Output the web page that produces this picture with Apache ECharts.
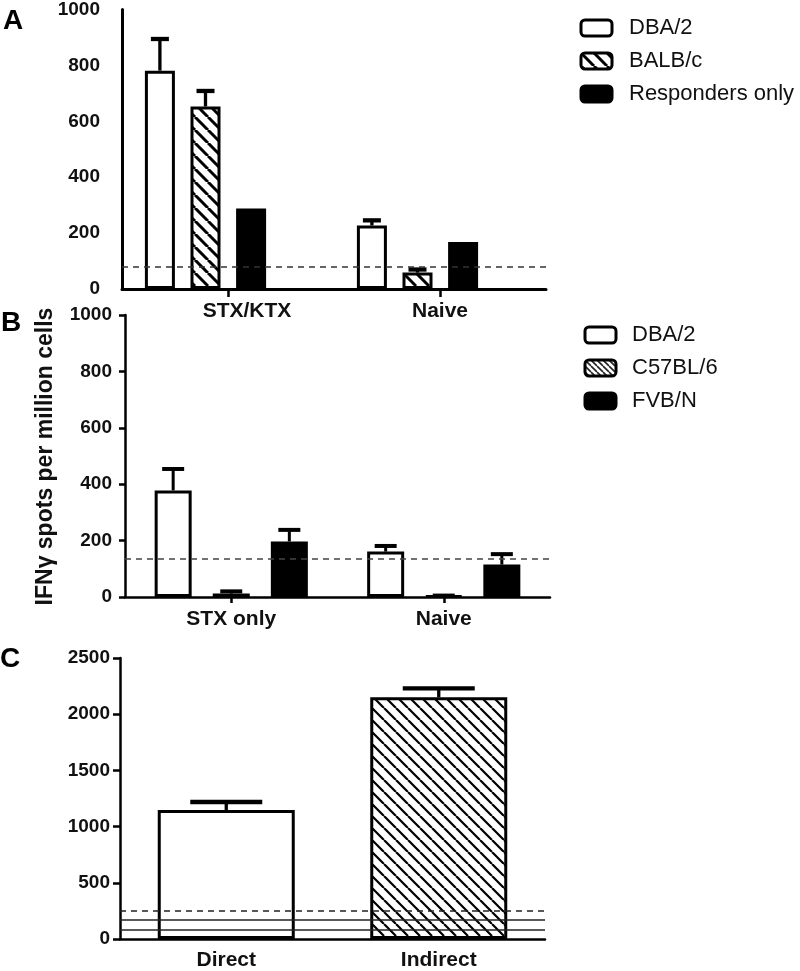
<!DOCTYPE html>
<html><head><meta charset="utf-8">
<script src="https://cdn.jsdelivr.net/npm/echarts@6/dist/echarts.min.js"></script>
<style>html,body{margin:0;padding:0;background:#fff}#c{width:800px;height:971px}</style>
</head><body><div id="c"></div>
<script>
const FONT = '"Liberation Sans", Arial, Helvetica, sans-serif';

// ---------- Panel A ----------
const catsA = ['STX/KTX', 'Naive'];
const namesA = ['DBA/2', 'BALB/c', 'Responders only'];
const meanA_DBA = [773, 225];
const errA_DBA = [885, 243];
const meanA_BALB = [646, 58];
const errA_BALB = [701, 69];
const meanA_Resp = [285, 166];
const thresholdA = 78;
const ticksA = [0, 200, 400, 600, 800, 1000];

// ---------- Panel B ----------
const catsB = ['STX only', 'Naive'];
const namesB = ['DBA/2', 'C57BL/6', 'FVB/N'];
const meanB_DBA = [378, 161];
const errB_DBA = [454, 181];
const meanB_C57 = [12, 4];
const errB_C57 = [20, 5];
const meanB_FVB = [197, 115];
const errB_FVB = [238, 152];
const thresholdB = 135;
const ticksB = [0, 200, 400, 600, 800, 1000];

// ---------- Panel C ----------
const catsC = ['Direct', 'Indirect'];
const meanC = [1148, 2150];
const errC = [1219, 2230];
const dashedC = 248;
const solidC = [168, 80];
const ticksC = [0, 500, 1000, 1500, 2000, 2500];

const yNameB = 'IFNγ spots per million cells';

function hatch(p, w, bg, fg) {
  const c = document.createElement('canvas');
  c.width = p; c.height = p;
  const ctx = c.getContext('2d');
  ctx.fillStyle = bg; ctx.fillRect(0, 0, p, p);
  ctx.strokeStyle = fg; ctx.lineWidth = w;
  ctx.beginPath();
  for (let k = -1; k <= 1; k++) { ctx.moveTo(k * p, 0); ctx.lineTo(k * p + p, p); }
  ctx.stroke();
  return { image: c, repeat: 'repeat' };
}
const hatchA = hatch(13, 3, '#fff', '#000');
const hatchB = hatch(6, 1.6, '#fff', '#222');
const hatchC = hatch(12, 2.2, '#fff', '#000');

function errSeries(xi, yi, means, errs, offset, capW, lw) {
  return {
    type: 'custom', xAxisIndex: xi, yAxisIndex: yi, z: 3, silent: true,
    data: means.map((m, i) => [i, m, errs[i]]),
    renderItem(params, api) {
      const base = api.coord([api.value(0), api.value(1)]);
      const top = api.coord([api.value(0), api.value(2)]);
      const x = base[0] + offset;
      return { type: 'group', children: [
        { type: 'line', shape: { x1: x, y1: base[1], x2: x, y2: top[1] }, style: { stroke: '#000', lineWidth: lw } },
        { type: 'line', shape: { x1: x - capW / 2, y1: top[1], x2: x + capW / 2, y2: top[1] }, style: { stroke: '#000', lineWidth: lw + 1 } }
      ] };
    }
  };
}

const yLabel = (m) => ({ fontSize: 19, fontWeight: 'bold', color: '#111', fontFamily: FONT, margin: m, formatter: (v) => String(v) });
const xLabel = (m) => ({ fontSize: 21, fontWeight: 'bold', color: '#111', fontFamily: FONT, margin: m, interval: 0 });
const axLine = (w) => ({ show: true, lineStyle: { color: '#000', width: w } });

const white = { color: '#fff', borderColor: '#000', borderWidth: 3 };
const black = { color: '#000', borderColor: '#000', borderWidth: 3 };

const bwA = 30, gapA = 0.52, bwB = 37, gapB = 0.57;
const pitchA = bwA * (1 + gapA), pitchB = bwB * (1 + gapB);

const option = {
  animation: false,
  backgroundColor: '#fff',
  grid: [
    { left: 122, right: 254, top: 6.5, height: 282.5 },
    { left: 99.5, right: 276.5, top: 6.5, height: 282.5 },
    { left: 125, right: 250, top: 315, height: 282 },
    { left: 120, right: 255, top: 658, height: 282 }
  ],
  xAxis: [
    { gridIndex: 0, type: 'category',
      data: catsA.map((c, i) => i === 0 ? { value: c, textStyle: { padding: [0, 0, 0, 38] } } : c),
      axisLine: axLine(3), axisTick: { show: true, alignWithLabel: true, length: 8, lineStyle: { color: '#000', width: 2.5 } },
      axisLabel: xLabel(12), splitLine: { show: false } },
    { gridIndex: 1, type: 'category', data: catsA, show: false },
    { gridIndex: 2, type: 'category', data: catsB,
      axisLine: axLine(2.5), axisTick: { show: true, alignWithLabel: true, length: 6, lineStyle: { color: '#000', width: 2.5 } },
      axisLabel: xLabel(12), splitLine: { show: false } },
    { gridIndex: 3, type: 'category', data: catsC,
      axisLine: axLine(2.5), axisTick: { show: false },
      axisLabel: xLabel(11), splitLine: { show: false } }
  ],
  yAxis: [
    { gridIndex: 0, type: 'value', min: ticksA[0], max: ticksA[ticksA.length - 1], interval: ticksA[1] - ticksA[0],
      axisLine: axLine(3), axisTick: { show: false }, axisLabel: yLabel(22), splitLine: { show: false } },
    { gridIndex: 1, type: 'value', min: ticksA[0], max: ticksA[ticksA.length - 1], show: false, splitLine: { show: false } },
    { gridIndex: 2, type: 'value', min: ticksB[0], max: ticksB[ticksB.length - 1], interval: ticksB[1] - ticksB[0],
      axisLine: axLine(2.5), axisTick: { show: true, length: 6, lineStyle: { color: '#000', width: 2.5 } },
      axisLabel: yLabel(13), splitLine: { show: false } },
    { gridIndex: 3, type: 'value', min: ticksC[0], max: ticksC[ticksC.length - 1], interval: ticksC[1] - ticksC[0],
      axisLine: axLine(2.5), axisTick: { show: true, length: 7, lineStyle: { color: '#000', width: 2.5 } },
      axisLabel: yLabel(10), splitLine: { show: false } }
  ],
  legend: [
    { orient: 'vertical', left: 574.5, top: 11.5, data: namesA, selectedMode: false,
      itemWidth: 31, itemHeight: 16, itemGap: 10, icon: 'roundRect',
      itemStyle: { borderWidth: 3, borderColor: '#000' },
      textStyle: { fontSize: 22, color: '#111', fontFamily: FONT, padding: [0, 0, 0, 12], lineHeight: 23 } },
    { orient: 'vertical', left: 578.5, top: 318.5, data: namesB, selectedMode: false,
      itemWidth: 31, itemHeight: 16, itemGap: 10, icon: 'roundRect',
      itemStyle: { borderWidth: 3, borderColor: '#000' },
      textStyle: { fontSize: 22, color: '#111', fontFamily: FONT, padding: [0, 0, 0, 11], lineHeight: 23 } }
  ],
  graphic: [
    { type: 'text', left: 3, top: 7, style: { text: 'A', font: 'bold 28px ' + FONT, fill: '#000' } },
    { type: 'text', left: 1, top: 309, style: { text: 'B', font: 'bold 28px ' + FONT, fill: '#000' } },
    { type: 'text', left: 0, top: 645, style: { text: 'C', font: 'bold 28px ' + FONT, fill: '#000' } },
    { type: 'text', x: 46, y: 456.5, rotation: Math.PI / 2,
      style: { text: yNameB, font: 'bold 23px ' + FONT, fill: '#111', textAlign: 'center', textVerticalAlign: 'middle' } }
  ],
  series: [
    // Panel A
    { type: 'line', xAxisIndex: 0, yAxisIndex: 0, data: [], z: 1, silent: true,
      markLine: { silent: true, symbol: 'none', label: { show: false },
        lineStyle: { color: '#333', type: [6, 5], width: 1.5 }, data: [{ yAxis: thresholdA }] } },
    { name: namesA[0], type: 'bar', xAxisIndex: 1, yAxisIndex: 1, data: meanA_DBA, barWidth: bwA, barGap: (gapA * 100) + '%', itemStyle: white, z: 2 },
    { name: namesA[1], type: 'bar', xAxisIndex: 1, yAxisIndex: 1, data: meanA_BALB, barWidth: bwA, barGap: (gapA * 100) + '%', itemStyle: { color: hatchA, borderColor: '#000', borderWidth: 3 }, z: 2 },
    { name: namesA[2], type: 'bar', xAxisIndex: 1, yAxisIndex: 1, data: meanA_Resp, barWidth: bwA, barGap: (gapA * 100) + '%', itemStyle: black, z: 2 },
    errSeries(1, 1, meanA_DBA, errA_DBA, -pitchA, 18, 3.3),
    errSeries(1, 1, meanA_BALB, errA_BALB, 0, 18, 3.3),
    // Panel B
    { type: 'line', xAxisIndex: 2, yAxisIndex: 2, data: [], z: 1, silent: true,
      markLine: { silent: true, symbol: 'none', label: { show: false },
        lineStyle: { color: '#444', type: [6, 5], width: 1.5 }, data: [{ yAxis: thresholdB }] } },
    { name: namesB[0], type: 'bar', xAxisIndex: 2, yAxisIndex: 2, data: meanB_DBA, barWidth: bwB, barGap: (gapB * 100) + '%', itemStyle: white, z: 2 },
    { name: namesB[1], type: 'bar', xAxisIndex: 2, yAxisIndex: 2, data: meanB_C57, barWidth: bwB, barGap: (gapB * 100) + '%', itemStyle: { color: hatchB, borderColor: '#000', borderWidth: 3 }, z: 2 },
    { name: namesB[2], type: 'bar', xAxisIndex: 2, yAxisIndex: 2, data: meanB_FVB, barWidth: bwB, barGap: (gapB * 100) + '%', itemStyle: black, z: 2 },
    errSeries(2, 2, meanB_DBA, errB_DBA, -pitchB, 22, 3),
    errSeries(2, 2, meanB_C57, errB_C57, 0, 22, 3),
    errSeries(2, 2, meanB_FVB, errB_FVB, pitchB, 22, 3),
    // Panel C
    { type: 'line', xAxisIndex: 3, yAxisIndex: 3, data: [], z: 1, silent: true,
      markLine: { silent: true, symbol: 'none', label: { show: false },
        data: [
          { yAxis: dashedC, lineStyle: { color: '#222', type: [6, 5], width: 1.5 } },
          { yAxis: solidC[0], lineStyle: { color: '#222', type: 'solid', width: 1.5 } },
          { yAxis: solidC[1], lineStyle: { color: '#222', type: 'solid', width: 1.5 } }
        ] } },
    { type: 'bar', xAxisIndex: 3, yAxisIndex: 3, barWidth: 137, z: 2,
      data: meanC.map((v, i) => ({ value: v, itemStyle: i === 0 ? white : { color: hatchC, borderColor: '#000', borderWidth: 3 } })) },
    errSeries(3, 3, meanC, errC, 0, 72, 3.3)
  ]
};

const chart = echarts.init(document.getElementById('c'), null, { renderer: 'canvas' });
chart.setOption(option);
</script>
</body></html>
